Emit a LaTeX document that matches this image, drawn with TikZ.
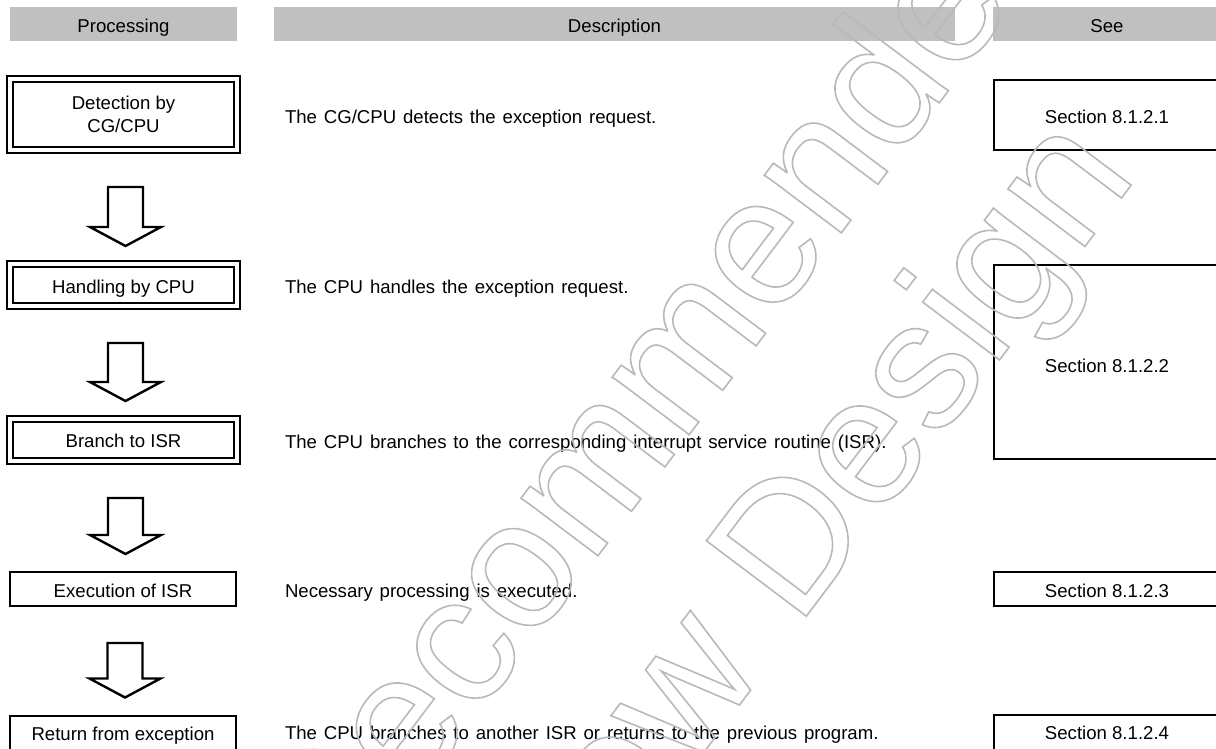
\documentclass[tikz,border=0pt]{standalone}
\usepackage{fontspec}
\setmainfont{Liberation Sans}
\newfontfamily\descfont{Liberation Sans}[WordSpace=1.33]
\usetikzlibrary{calc}
\definecolor{hdrgray}{RGB}{192,192,192}
\definecolor{wmgray}{RGB}{185,185,185}
\newcommand\wmOn{\special{pdf:literal direct 1 Tr}}
\newcommand\wmOff{\special{pdf:literal direct 0 Tr}}
\newcommand\blockarrow[2]{%
  \draw[blkarrow] let \p1=(#1.south), \p2=(#2.north) in
    (\x1+2pt-17.5pt,\y1-37pt) -- (\x1+2pt+17.5pt,\y1-37pt) --
    (\x1+2pt+17.5pt,\y2+37pt) -- (\x1+2pt+35.5pt,\y2+37pt) --
    (\x1+2pt,\y2+18pt) -- (\x1+2pt-35.5pt,\y2+37pt) --
    (\x1+2pt-17.5pt,\y2+37pt) -- cycle;}
\begin{document}
\begin{tikzpicture}[x=1pt,y=-1pt,
  every node/.style={font=\fontsize{18.6}{23.4}\selectfont, inner sep=0pt, outer sep=0pt},
  hdr/.style={fill=hdrgray, minimum height=34pt, text height=18pt, text depth=0pt},
  dblbox/.style={draw, line width=2pt, double=white, double distance=4pt, minimum width=227pt, align=center},
  sglbox/.style={draw, line width=2pt, minimum width=226pt},
  desc/.style={anchor=base west, font={\descfont\fontsize{18.6}{23.4}\selectfont}},
  blkarrow/.style={draw, line width=2.4pt, fill=white},
  wm/.style={rotate=53, anchor=base, color=wmgray, line width=1.6pt, font=\fontsize{182}{200}\selectfont}]
\useasboundingbox (0,0) rectangle (1216,749);
\fill[white] (0,0) rectangle (1216,749);
% headers
\node[hdr, minimum width=227pt] (h1) at (123.5,24) {Processing};
\node[hdr, minimum width=681pt] (h2) at (614.5,24) {Description};
\node[hdr, minimum width=228pt] (h3) at (1107,24) {See};
% processing column
\node[dblbox, minimum height=71pt] (det) at (123.5,114.5) {Detection by\\CG/CPU};
\node[dblbox, minimum height=42pt, text height=17.3pt, text depth=0pt] (han) at (123.5,285) {Handling by CPU};
\node[dblbox, minimum height=42pt, text height=15.3pt, text depth=0pt] (bra) at (123.5,440) {Branch to ISR};
\node[sglbox, minimum height=34pt, text height=17.3pt, text depth=0pt] (exe) at (123,589) {Execution of ISR};
\node[sglbox, minimum height=36pt, text height=13.3pt, text depth=0pt] (ret) at (123,733.5) {Return from exception};
% block arrows
\blockarrow{det}{han}
\blockarrow{han}{bra}
\blockarrow{bra}{exe}
\blockarrow{exe}{ret}
% descriptions
\node[desc] (d1) at (285,123.6) {The CG/CPU detects the exception request.};
\node[desc] (d2) at (285,293.6) {The CPU handles the exception request.};
\node[desc] (d3) at (285,448) {The CPU branches to the corresponding interrupt service routine (ISR).};
\node[desc] (d4) at (285,597.6) {Necessary processing is executed.};
\node[desc] (d5) at (285,739.8) {The CPU branches to another ISR or returns to the previous program.};
% see column
\node[sglbox, minimum height=70pt, text height=17.3pt, text depth=0pt] (s1) at (1107,115) {Section 8.1.2.1};
\node[sglbox, minimum height=194pt, text height=21.3pt, text depth=0pt] (s2) at (1107,362) {Section 8.1.2.2};
\node[sglbox, minimum height=34pt, text height=17.3pt, text depth=0pt] (s3) at (1107,589) {Section 8.1.2.3};
\node[sglbox, minimum height=36pt, text height=13.3pt, text depth=0pt] (s4) at (1107,733) {Section 8.1.2.4};
% watermark
\node[wm] (wm1) at (605.8,545.4) {\wmOn Not Recommended\wmOff};
\node[wm] (wm2) at (764.1,672.3) {\wmOn for New Design\wmOff};
\end{tikzpicture}
\end{document}
